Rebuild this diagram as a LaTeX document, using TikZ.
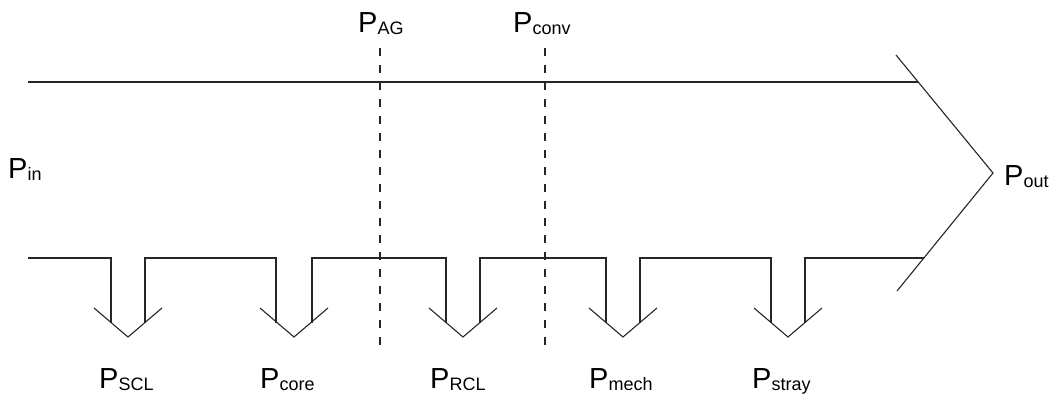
\documentclass[tikz,border=0pt]{standalone}
\usepackage{fontspec}
\setmainfont{Liberation Sans}
\newcommand\psub[1]{P{\fontsize{18pt}{18pt}\selectfont\raisebox{-2pt}{#1}}}
\begin{document}
\begin{tikzpicture}[x=1pt,y=-1pt,
  flow/.style={draw=black!85,line width=1.1pt,line join=miter},
  cut/.style={draw=black!85,line width=1.1pt,dash pattern=on 8pt off 9pt},
  lbl/.style={inner sep=0pt,anchor=base west,font=\fontsize{29pt}{29pt}\selectfont}]
\useasboundingbox (0,0) rectangle (1061,397);
% top flow line and output chevron
\draw[flow] (28,82) -- (918,82);
\draw[flow] (896,55) -- (993,173) -- (897,291);
% bottom flow line with loss notches
\draw[flow] (28,258) -- (111,258) -- (111,322.5);
\draw[flow] (145,322.5) -- (145,258) -- (276,258) -- (276,322.5);
\draw[flow] (312,322.5) -- (312,258) -- (446,258) -- (446,322.5);
\draw[flow] (480,322.5) -- (480,258) -- (606,258) -- (606,322.5);
\draw[flow] (640,322.5) -- (640,258) -- (771,258) -- (771,322.5);
\draw[flow] (805,322.5) -- (805,258) -- (924,258);
% loss arrow heads
\foreach \c in {128,294,463,623,788}
  \draw[flow] (\c-34,308) -- (\c,337) -- (\c+34,308);
% dashed cut lines
\draw[cut] (380,48) -- (380,348);
\draw[cut] (545,48) -- (545,348);
% labels
\node[lbl] (pag) at (358,32) {\psub{AG}};
\node[lbl] (pconv) at (513,32) {\psub{conv}};
\node[lbl] (pin) at (8,178) {\psub{in}};
\node[lbl] (pout) at (1004,185) {\psub{out}};
\node[lbl] (pscl) at (99,388) {\psub{SCL}};
\node[lbl] (pcore) at (260,388) {\psub{core}};
\node[lbl] (prcl) at (430,388) {\psub{RCL}};
\node[lbl] (pmech) at (589,388) {\psub{mech}};
\node[lbl] (pstray) at (752,388) {\psub{stray}};
\end{tikzpicture}
\end{document}
